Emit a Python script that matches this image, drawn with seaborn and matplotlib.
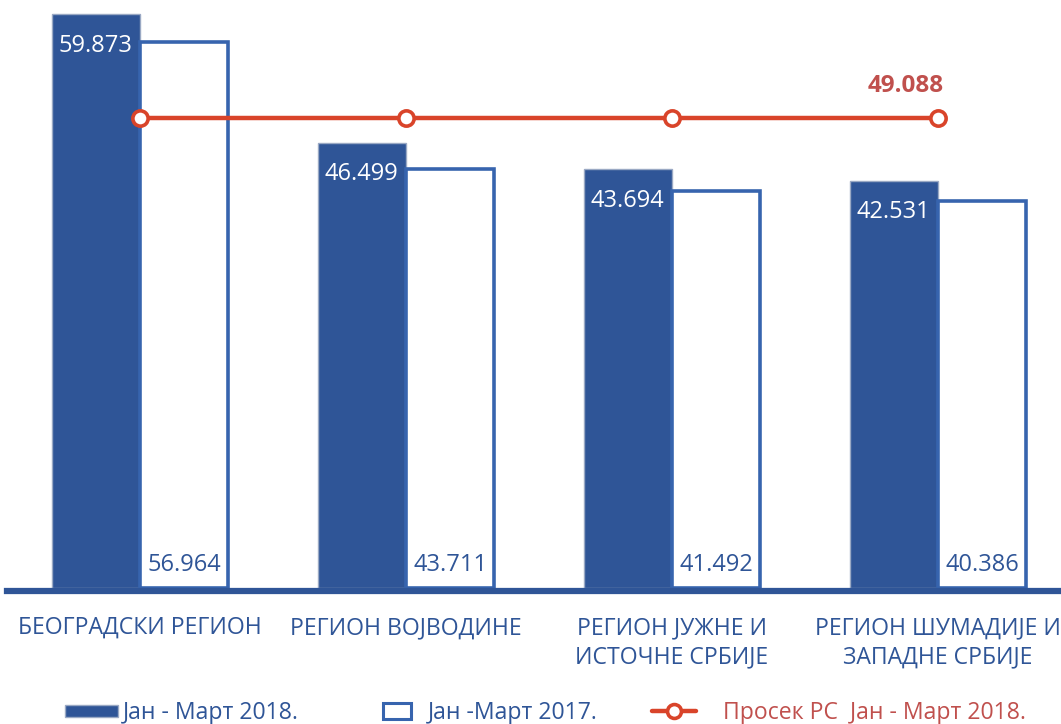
import numpy as np
import pandas as pd
import seaborn as sns
import matplotlib
matplotlib.use("Agg")
import matplotlib.pyplot as plt
from matplotlib.patches import Patch
from matplotlib.lines import Line2D

regions = ["БЕОГРАДСКИ РЕГИОН", "РЕГИОН ВОЈВОДИНЕ",
           "РЕГИОН ЈУЖНЕ И\nИСТОЧНЕ СРБИЈЕ", "РЕГИОН ШУМАДИЈЕ И\nЗАПАДНЕ СРБИЈЕ"]
values_2018 = [59.873, 46.499, 43.694, 42.531]
values_2017 = [56.964, 43.711, 41.492, 40.386]
avg_rs = [49.088, 49.088, 49.088, 49.088]
series_names = ["Јан - Март 2018.", "Јан -Март 2017.", "Просек РС  Јан - Март 2018."]

DARK = "#2F5597"
EDGE = "#3764AE"
RED_LINE = "#D9442A"
RED_TXT = "#C0504D"

sns.set_theme(style="white")
plt.rcParams["font.family"] = ["Open Sans", "DejaVu Sans"]

df = pd.DataFrame({
    "region": regions * 2,
    "period": [series_names[0]] * 4 + [series_names[1]] * 4,
    "value": values_2018 + values_2017,
})

fig = plt.figure(figsize=(10.61, 7.24), dpi=100)
ax = fig.add_axes([7 / 1061, (724 - 591) / 724, 1064 / 1061, 591 / 724])

sns.barplot(data=df, x="region", y="value", hue="period", order=regions,
            hue_order=series_names[:2], palette=[DARK, "white"], width=0.665,
            saturation=1, legend=False, ax=ax, errorbar=None)

n = len(regions)
for i, p in enumerate(ax.patches[:2 * n]):
    if i < n:
        p.set_facecolor(DARK)
        p.set_edgecolor("#9AA9C4")
        p.set_linewidth(1.0)
        x = p.get_x() + p.get_width() / 2
        ax.annotate(f"{values_2018[i]:.3f}", (x, p.get_height()), xytext=(0, -14),
                    textcoords="offset points", ha="center", va="top",
                    color="white", fontsize=17)
    else:
        j = i - n
        p.set_facecolor("white")
        p.set_edgecolor(EDGE)
        p.set_linewidth(2.6)
        x = p.get_x() + p.get_width() / 2
        ax.annotate(f"{values_2017[j]:.3f}", (x, 0), xytext=(0, 8),
                    textcoords="offset points", ha="center", va="bottom",
                    color=DARK, fontsize=17)

pos = np.arange(n)
sns.lineplot(x=pos, y=avg_rs, ax=ax, color=RED_LINE, linewidth=3.2, marker="o",
             markersize=11, markerfacecolor="white", markeredgecolor=RED_LINE,
             markeredgewidth=2.6, zorder=5)
ax.annotate(f"{avg_rs[-1]:.3f}", (pos[-1], avg_rs[-1]), xytext=(-23, 23),
            textcoords="offset points", ha="center", va="center",
            color=RED_TXT, fontsize=17.5, fontweight="bold")

ax.set_xlim(-0.5, 3.5)
ax.set_ylim(-0.31, 61.38)
ax.set_xlabel("")
ax.set_ylabel("")
ax.set_yticks([])
ax.tick_params(axis="x", length=0, pad=18, labelsize=16.6, labelcolor=DARK)
for lab in ax.get_xticklabels():
    lab.set_linespacing(1.3)
    lab.set_verticalalignment("top")
for s in ["top", "right", "left"]:
    ax.spines[s].set_visible(False)
ax.spines["bottom"].set_color(DARK)
ax.spines["bottom"].set_linewidth(4.5)

# legends
leg_y = (724 - 713) / 724
h1 = Patch(facecolor=DARK, edgecolor="#9AA9C4", linewidth=1)
h2 = Patch(facecolor="white", edgecolor=EDGE, linewidth=2.2)
h3 = Line2D([0], [0], color=RED_LINE, lw=3.2, marker="o", markersize=10,
            markerfacecolor="white", markeredgecolor=RED_LINE, markeredgewidth=2.6)
specs = [
    (h1, series_names[0], 65, DARK, 2.3, 0.42, 0.2),
    (h2, series_names[1], 383, DARK, 1.2, 0.68, 0.75),
    (h3, series_names[2], 652, RED_TXT, 1.9, 0.65, 1.2),
]
for h, lab, xpx, col, hl, hh, tp in specs:
    lg = fig.legend([h], [lab], loc="center left", bbox_to_anchor=(xpx / 1061, leg_y),
                    frameon=False, fontsize=16.6, borderpad=0, borderaxespad=0,
                    handlelength=hl, handleheight=hh, handletextpad=tp)
    for t in lg.get_texts():
        t.set_color(col)

fig.savefig("out.png", dpi=100)
